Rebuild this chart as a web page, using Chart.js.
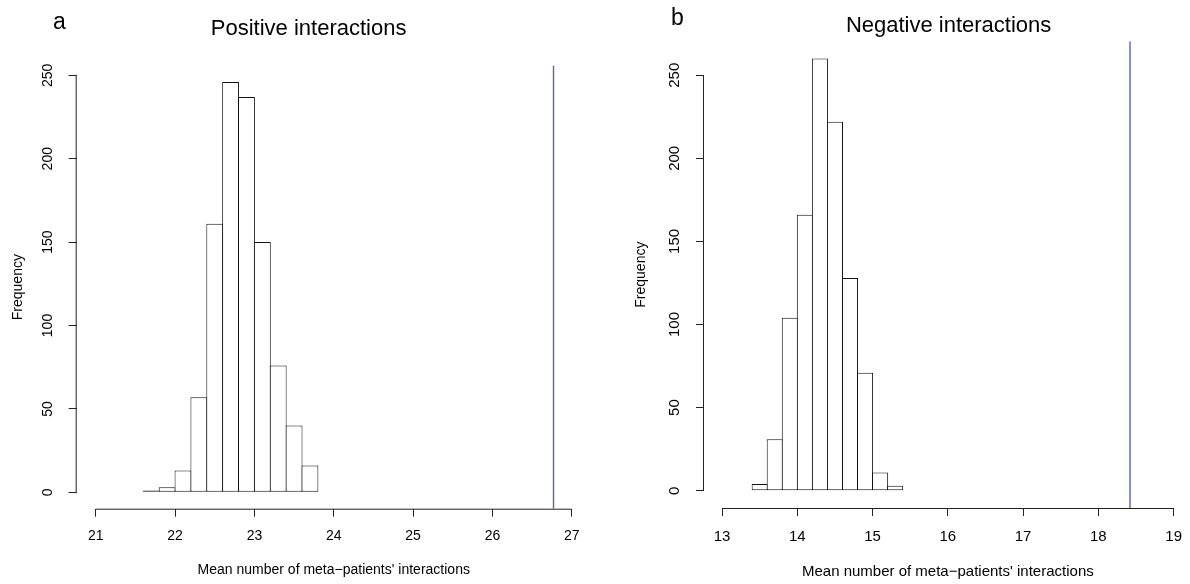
<!DOCTYPE html>
<html>
<head>
<meta charset="utf-8">
<script src="https://cdn.jsdelivr.net/npm/chart.js@4"></script>
<style>
  html, body { margin: 0; padding: 0; background: #fff; overflow: hidden; width: 1190px; height: 584px; }
  .panel { position: absolute; top: 0; }
</style>
</head>
<body>
<div class="panel" style="left:0px;width:595px;height:584px"><canvas id="c1" width="595" height="584"></canvas></div>
<div class="panel" style="left:595px;width:600px;height:584px"><canvas id="c2" width="600" height="584"></canvas></div>
<script>
// ---- data ----
const posBreaks = [21.6, 21.8, 22.0, 22.2, 22.4, 22.6, 22.8, 23.0, 23.2, 23.4, 23.6, 23.8];
const posCounts = [1, 3, 13, 57, 161, 246, 237, 150, 76, 40, 16];
const posObserved = 26.77;
const posXTicks = [21, 22, 23, 24, 25, 26, 27];

const negBreaks = [13.4, 13.6, 13.8, 14.0, 14.2, 14.4, 14.6, 14.8, 15.0, 15.2, 15.4];
const negCounts = [4, 31, 104, 166, 260, 222, 128, 71, 11, 3];
const negObserved = 18.42;
const negXTicks = [13, 14, 15, 16, 17, 18, 19];

const yTicks = [0, 50, 100, 150, 200, 250];

const xTitle = "Mean number of meta\u2212patients' interactions";
const yTitle = "Frequency";

const FONT = "'Liberation Sans', Arial, Helvetica, sans-serif";

// R-style decorations: axis lines spanning first..last tick, panel letter and main title
const rDecor = {
  id: 'rDecor',
  afterDraw(chart, args, o) {
    const ctx = chart.ctx;
    const xs = chart.scales.x, ys = chart.scales.y;
    const ca = chart.chartArea;
    ctx.save();
    ctx.strokeStyle = '#222';
    ctx.lineWidth = 1;
    const xt = xs.ticks, yt = ys.ticks;
    ctx.beginPath();
    ctx.moveTo(xs.getPixelForValue(xt[0].value), ca.bottom + 0.5);
    ctx.lineTo(xs.getPixelForValue(xt[xt.length - 1].value), ca.bottom + 0.5);
    ctx.moveTo(ca.left - 0.5, ys.getPixelForValue(yt[0].value));
    ctx.lineTo(ca.left - 0.5, ys.getPixelForValue(yt[yt.length - 1].value));
    ctx.stroke();
    ctx.fillStyle = '#000';
    ctx.textBaseline = 'alphabetic';
    ctx.textAlign = 'center';
    ctx.font = o.titleSize + 'px ' + FONT;
    ctx.fillText(o.title, o.titleX, o.titleY);
    ctx.textAlign = 'left';
    ctx.font = o.letterSize + 'px ' + FONT;
    ctx.fillText(o.letter, o.letterX, o.letterY);
    ctx.restore();
  }
};

function makeChart(id, breaks, counts, observed, xTicks, L) {
  const centers = counts.map((c, i) => (breaks[i] + breaks[i + 1]) / 2);
  const yMaxData = Math.max(...counts);
  const yMin = -0.04 * yMaxData, yMax = 1.04 * yMaxData;
  const xSpan = xTicks[xTicks.length - 1] - xTicks[0];
  const xMin = xTicks[0] - 0.04 * xSpan, xMax = xTicks[xTicks.length - 1] + 0.04 * xSpan;

  return new Chart(document.getElementById(id), {
    data: {
      datasets: [
        {
          type: 'bar',
          data: centers.map((x, i) => ({ x: x, y: counts[i] })),
          backgroundColor: '#ffffff',
          borderColor: '#111',
          borderWidth: 1,
          borderSkipped: false,
          barPercentage: L.barPct,
          categoryPercentage: 1,
          inflateAmount: 0
        },
        {
          type: 'line',
          data: [{ x: observed, y: yMin }, { x: observed, y: yMax }],
          borderColor: '#5468b0',
          borderWidth: 1.4,
          pointRadius: 0,
          fill: false
        }
      ]
    },
    options: {
      responsive: false,
      animation: false,
      devicePixelRatio: 1,
      layout: { padding: L.padding },
      plugins: {
        legend: { display: false },
        tooltip: { enabled: false },
        rDecor: L.decor
      },
      scales: {
        x: {
          type: 'linear',
          min: xMin, max: xMax,
          offset: false,
          afterBuildTicks: s => { s.ticks = xTicks.map(v => ({ value: v })); },
          afterFit: s => { s.height = L.xHeight; },
          grid: { display: true, offset: false, drawOnChartArea: false, drawTicks: true, tickLength: 8, tickColor: '#222', tickWidth: 1 },
          border: { display: false },
          ticks: { color: '#000', padding: L.xTickPad, maxRotation: 0, autoSkip: false,
                   font: { family: FONT, size: L.xTickSize } },
          title: { display: true, text: xTitle, color: '#000',
                   font: { family: FONT, size: L.xTitleSize }, padding: { top: 0, bottom: L.xTitlePad } }
        },
        y: {
          type: 'linear',
          min: yMin, max: yMax,
          afterBuildTicks: s => { s.ticks = yTicks.map(v => ({ value: v })); },
          afterFit: s => { s.width = L.yWidth; },
          grid: { display: true, drawOnChartArea: false, drawTicks: true, tickLength: 8, tickColor: '#222', tickWidth: 1 },
          border: { display: false },
          ticks: { color: '#000', padding: L.yTickPad, minRotation: 90, maxRotation: 90, crossAlign: 'center',
                   autoSkip: false, font: { family: FONT, size: L.yTickSize } },
          title: { display: true, text: yTitle, color: '#000',
                   font: { family: FONT, size: 14 }, padding: { top: L.yTitlePad, bottom: 0 } }
        }
      }
    },
    plugins: [rDecor]
  });
}

makeChart('c1', posBreaks, posCounts, posObserved, posXTicks, {
  padding: { top: 65.6, right: 4.2, bottom: 0, left: 0 },
  yWidth: 76.7, xHeight: 75.3, barPct: 1.063,
  xTickPad: 11, xTickSize: 14, xTitleSize: 14, xTitlePad: 5.6,
  yTickPad: 9, yTickSize: 14, yTitlePad: 9.6,
  decor: { title: 'Positive interactions', titleX: 308.6, titleY: 35, titleSize: 22,
           letter: 'a', letterX: 53, letterY: 29, letterSize: 23 }
});

makeChart('c2', negBreaks, negCounts, negObserved, negXTicks, {
  padding: { top: 41.3, right: 3.3, bottom: 0, left: 0 },
  yWidth: 109, xHeight: 76, barPct: 1.066,
  xTickPad: 11.7, xTickSize: 15, xTitleSize: 15, xTitlePad: 3,
  yTickPad: 8.5, yTickSize: 15, yTitlePad: 37.6,
  decor: { title: 'Negative interactions', titleX: 353.6, titleY: 32, titleSize: 22,
           letter: 'b', letterX: 76, letterY: 25, letterSize: 23 }
});
</script>
</body>
</html>
